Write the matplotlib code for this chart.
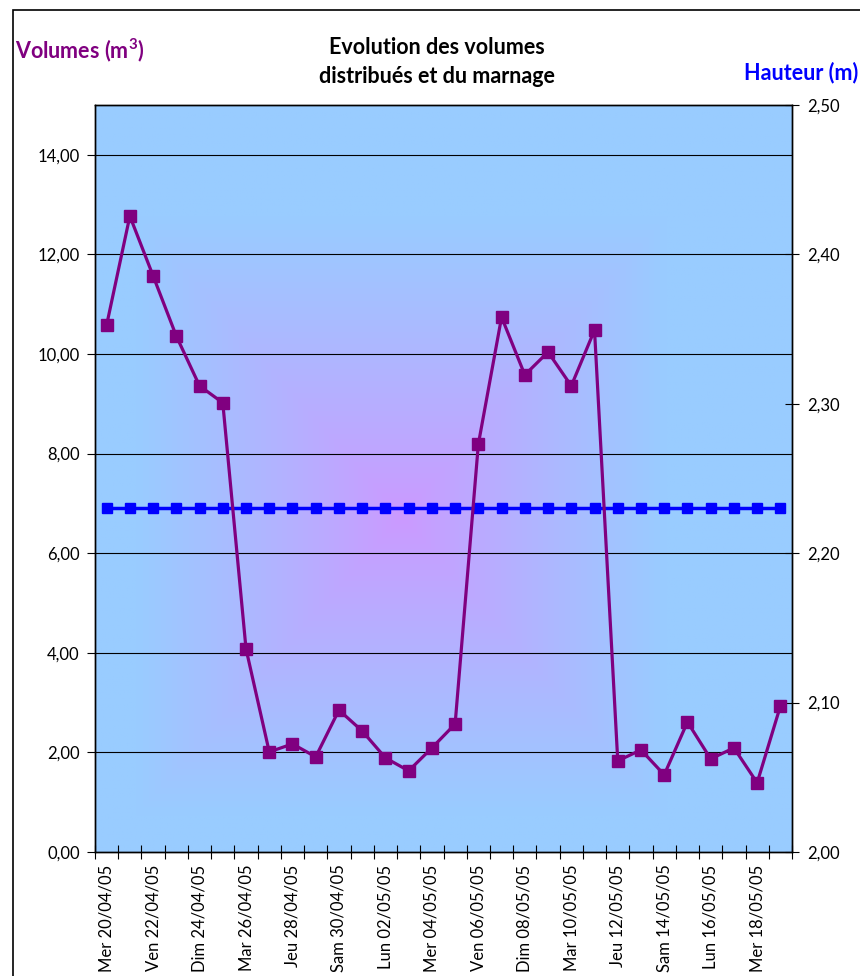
import matplotlib
matplotlib.use("Agg")
import matplotlib.pyplot as plt
import numpy as np
from matplotlib.patches import Rectangle
from matplotlib.colors import to_rgb

plt.rcParams['font.family'] = ['Lato', 'DejaVu Sans']
plt.rcParams['mathtext.fontset'] = 'custom'
plt.rcParams['mathtext.rm'] = 'Lato'
plt.rcParams['mathtext.bf'] = 'Lato:bold'

dates = ["Mer 20/04/05", "Jeu 21/04/05", "Ven 22/04/05", "Sam 23/04/05", "Dim 24/04/05",
         "Lun 25/04/05", "Mar 26/04/05", "Mer 27/04/05", "Jeu 28/04/05", "Ven 29/04/05",
         "Sam 30/04/05", "Dim 01/05/05", "Lun 02/05/05", "Mar 03/05/05", "Mer 04/05/05",
         "Jeu 05/05/05", "Ven 06/05/05", "Sam 07/05/05", "Dim 08/05/05", "Lun 09/05/05",
         "Mar 10/05/05", "Mer 11/05/05", "Jeu 12/05/05", "Ven 13/05/05", "Sam 14/05/05",
         "Dim 15/05/05", "Lun 16/05/05", "Mar 17/05/05", "Mer 18/05/05", "Jeu 19/05/05"]
volumes = [10.58, 12.77, 11.57, 10.36, 9.36, 9.02, 4.08, 2.01, 2.17, 1.91,
           2.85, 2.43, 1.89, 1.63, 2.09, 2.57, 8.19, 10.74, 9.58, 10.04,
           9.36, 10.48, 1.83, 2.05, 1.55, 2.61, 1.87, 2.09, 1.39, 2.93]
hauteur = [2.23, 2.23, 2.23, 2.23, 2.23, 2.23, 2.23, 2.23, 2.23, 2.23,
           2.23, 2.23, 2.23, 2.23, 2.23, 2.23, 2.23, 2.23, 2.23, 2.23,
           2.23, 2.23, 2.23, 2.23, 2.23, 2.23, 2.23, 2.23, 2.23, 2.23]
left_ticks = [0, 2, 4, 6, 8, 10, 12, 14]
right_ticks = [2.0, 2.1, 2.2, 2.3, 2.4, 2.5]

W, H = 860, 976
fig = plt.figure(figsize=(W/100, H/100), dpi=100)
fig.patch.set_facecolor('white')

x0, x1, y0, y1 = 95, 792, 105, 852
rect = [x0/W, 1 - y1/H, (x1-x0)/W, (y1-y0)/H]
ax2 = fig.add_axes(rect)
ax = ax2.twinx()
ax.yaxis.set_label_position('left')
ax.yaxis.tick_left()
ax2.yaxis.tick_right()
ax.set_zorder(ax2.get_zorder() + 1)
ax.patch.set_visible(False)

# gradient background (rectangular, from centre)
n = 400
ux = np.linspace(-1, 1, n)
U, V = np.meshgrid(ux + 0.12, ux - 0.10)
t = np.maximum(np.abs(U) / 0.76, np.abs(V) / 0.80)
t = np.clip(t, 0, 1) ** 0.9
edge = np.array(to_rgb('#99CCFF'))
center = np.array(to_rgb('#CC99FF'))
img = center[None, None, :] * (1 - t[..., None]) + edge[None, None, :] * t[..., None]
ax2.imshow(img, extent=[0, 1, 0, 1], transform=ax2.transAxes, aspect='auto', zorder=0)

x = np.arange(len(dates))

ax2.plot(x, hauteur, color='#0000FF', lw=2.5, marker='s', ms=7.5, zorder=3)
ax2.set_ylim(2.0, 2.5)
ax2.set_yticks(right_ticks)
ax2.set_yticklabels([f"{v:.2f}".replace('.', ',') for v in right_ticks], fontsize=12)
ax2.tick_params(axis='y', direction='inout', length=10, width=0.8, pad=6)

ax.plot(x, volumes, color='#800080', lw=2.3, marker='s', ms=8.3, zorder=4)
ax.set_ylim(0, 15)
ax.set_yticks(left_ticks)
ax.set_yticklabels([f"{v:.2f}".replace('.', ',') for v in left_ticks], fontsize=12)
ax.tick_params(axis='y', direction='out', length=6, width=0.8, pad=5)
for v in left_ticks[1:]:
    ax.axhline(v, color='black', lw=0.8, zorder=1)

ax.set_xlim(-0.5, len(dates) - 0.5)
ax2.set_xlim(-0.5, len(dates) - 0.5)
ax2.set_xticks(x[::2])
ax2.set_xticklabels(dates[::2], rotation=90, fontsize=12, va='top', ha='center')
ax2.set_xticks(np.arange(-0.5, len(dates), 1), minor=True)
ax2.tick_params(axis='x', which='major', length=0, pad=9)
ax2.tick_params(axis='x', which='minor', direction='inout', length=10, width=0.8)
ax.tick_params(axis='x', which='both', length=0, labelbottom=False)

for a in (ax, ax2):
    for s in a.spines.values():
        s.set_linewidth(1.0)
        s.set_color('black')

# texts
fig.text(15/W, 1 - 50/H, "Volumes (m$^{\\mathbf{3}}$)", color='#800080', fontsize=15.5,
         fontweight='bold', ha='left', va='center')
fig.text(437/W, 1 - 62/H, "Evolution des volumes\ndistribués et du marnage", color='black',
         fontsize=15.5, fontweight='bold', ha='center', va='center', linespacing=1.45)
fig.text(858/W, 1 - 73/H, "Hauteur (m)", color='#0000FF', fontsize=15.5,
         fontweight='bold', ha='right', va='center')

# figure border
fig.add_artist(Rectangle((13/W, -0.01), 1.0, 1 - 10/H + 0.01, transform=fig.transFigure,
                         fill=False, edgecolor='black', lw=1.2))

fig.savefig('out.png', dpi=100)
